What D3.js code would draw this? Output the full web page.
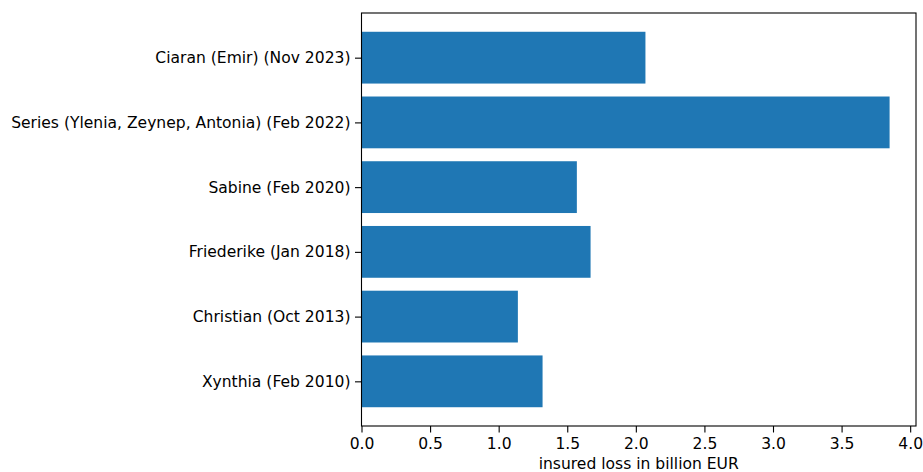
<!DOCTYPE html>
<html><head><meta charset="utf-8">
<script src="https://cdn.jsdelivr.net/npm/d3@7"></script>
<style>body{margin:0;background:#fff}svg{display:block}text{font-family:"DejaVu Sans",sans-serif}</style>
</head><body>
<script>
const categories = ["Xynthia (Feb 2010)","Christian (Oct 2013)","Friederike (Jan 2018)","Sabine (Feb 2020)","Series (Ylenia, Zeynep, Antonia) (Feb 2022)","Ciaran (Emir) (Nov 2023)"];
const losses = [1.32, 1.14, 1.67, 1.57, 3.85, 2.07];
const xTicks = [0,0.5,1,1.5,2,2.5,3,3.5,4];
const xLabel = "insured loss in billion EUR";

const W=923,H=472, L=361.5, R=916, T=13, B=426;
const svg=d3.select("body").append("svg").attr("width",W).attr("height",H);
const xmax=d3.max(losses)*1.05;
const x=d3.scaleLinear().domain([0,xmax]).range([L,R]);
const n=categories.length;
const y=d3.scaleLinear().domain([-0.4-0.29,(n-1)+0.4+0.29]).range([B,T]);
const fs=15.55;

svg.selectAll("rect.bar").data(losses).join("rect").attr("class","bar")
 .attr("x",x(0)).attr("width",d=>x(d)-x(0))
 .attr("y",(d,i)=>y(i+0.4)).attr("height",(d,i)=>y(i-0.4)-y(i+0.4))
 .attr("fill","#1f77b4");

const xa=svg.append("g").attr("transform",`translate(0,${B})`)
 .call(d3.axisBottom(x).tickValues(xTicks).tickFormat(d3.format(".1f")).tickSize(6.5).tickPadding(5));
const ya=svg.append("g").attr("transform",`translate(${L},0)`)
 .call(d3.axisLeft(y).tickValues(d3.range(n)).tickFormat(i=>categories[i]).tickSize(6.5).tickPadding(4.5));
[xa,ya].forEach(g=>{g.select(".domain").remove();g.selectAll("text").attr("font-size",fs).attr("font-family","DejaVu Sans").attr("fill","#000");g.selectAll("line").attr("stroke","#000").attr("stroke-width",1.1);});

svg.append("rect").attr("x",L).attr("y",T).attr("width",R-L).attr("height",B-T).attr("fill","none").attr("stroke","#000").attr("stroke-width",1.1);

svg.append("text").attr("x",(L+R)/2).attr("y",468.5).attr("text-anchor","middle").attr("font-size",fs).text(xLabel);
</script>
</body></html>
